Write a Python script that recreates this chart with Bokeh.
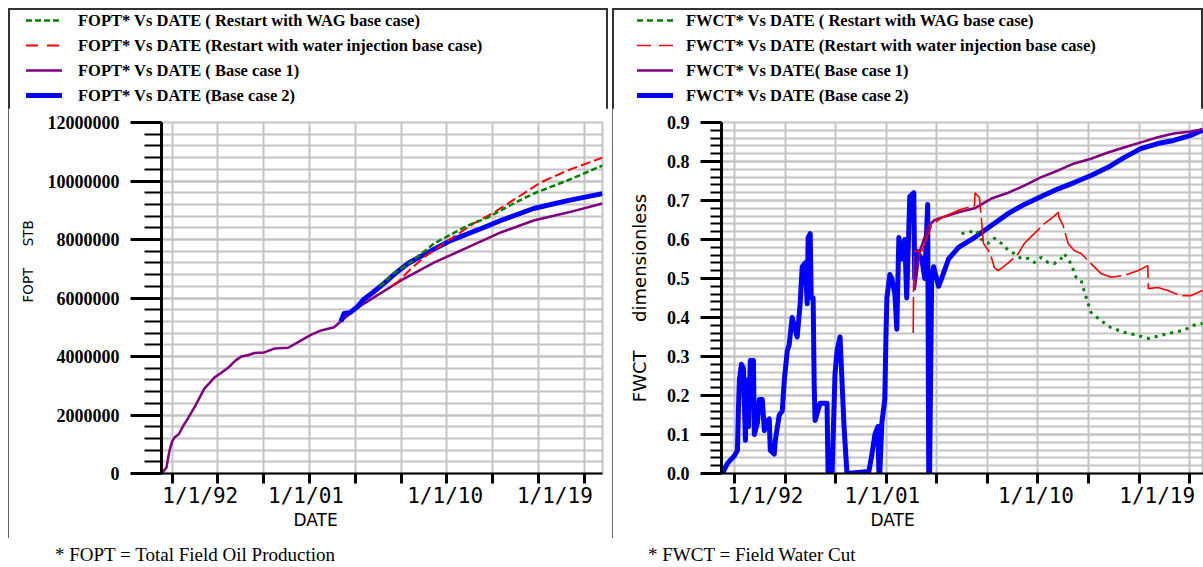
from bokeh.plotting import figure
from bokeh.models import (Range1d, FixedTicker, SingleIntervalTicker, LinearAxis,
                          NumeralTickFormatter, Div, Grid, Title, Spacer, CustomLabelingPolicy)
from bokeh.layouts import row, column
from bokeh.embed import file_html
from bokeh.resources import INLINE

# ---------------- data (x = decimal year) ----------------
GRID_YEARS = [1989.0, 1992.42, 1995.84, 1999.27, 2002.69, 2006.11, 2009.53, 2012.96, 2016.38, 2019.80]
DATE_LABEL_YEARS = [1991.1, 1999.0, 2009.4, 2017.6]
DATE_LABELS = ["1/1/92", "1/1/01", "1/1/10", "1/1/19"]

# FOPT (STB)
fopt_base1_x = [1988.20, 1988.57, 1988.80, 1989.00, 1989.17, 1989.50, 1989.84, 1990.20, 1990.66, 1991.00,
                1991.41, 1991.80, 1992.15, 1992.70, 1993.20, 1993.70, 1994.17, 1994.70, 1995.14, 1995.88,
                1996.63, 1997.67, 1998.64, 1999.40, 2000.13, 2001.10, 2001.85, 2002.89, 2004.08, 2006.10,
                2008.56, 2011.09, 2013.55, 2016.01, 2018.55, 2021.16]
fopt_base1_y = [0, 0.20e6, 0.79e6, 1.10e6, 1.23e6, 1.35e6, 1.64e6, 1.90e6, 2.26e6, 2.55e6,
                2.91e6, 3.10e6, 3.28e6, 3.45e6, 3.62e6, 3.85e6, 4.00e6, 4.05e6, 4.12e6, 4.14e6,
                4.27e6, 4.30e6, 4.55e6, 4.75e6, 4.89e6, 5.00e6, 5.30e6, 5.68e6, 6.02e6, 6.60e6,
                7.21e6, 7.73e6, 8.24e6, 8.65e6, 8.92e6, 9.23e6]
fopt_base2_x = [2001.60, 2001.85, 2002.30, 2002.89, 2003.30, 2004.00, 2004.83, 2005.70, 2006.62, 2008.11,
                2009.83, 2012.29, 2013.55, 2016.01, 2018.55, 2021.16]
fopt_base2_y = [5.20e6, 5.47e6, 5.50e6, 5.72e6, 5.95e6, 6.19e6, 6.50e6, 6.85e6, 7.18e6, 7.56e6,
                7.97e6, 8.41e6, 8.65e6, 9.06e6, 9.33e6, 9.57e6]
fopt_wag_x = [2004.50, 2005.50, 2006.99, 2008.56, 2011.09, 2012.58, 2014.52, 2016.01, 2018.55, 2021.16]
fopt_wag_y = [6.40e6, 6.82e6, 7.28e6, 7.86e6, 8.48e6, 8.75e6, 9.23e6, 9.57e6, 10.02e6, 10.53e6]
fopt_wi_x = [2005.50, 2005.87, 2006.84, 2008.00, 2009.30, 2011.54, 2013.03, 2014.82, 2016.54, 2018.55, 2021.16]
fopt_wi_y = [6.45e6, 6.55e6, 7.00e6, 7.45e6, 7.86e6, 8.55e6, 8.92e6, 9.44e6, 9.95e6, 10.36e6, 10.80e6]

# FWCT (fraction)
fwct_base2_x = [1988.19, 1988.52, 1989.00, 1989.20, 1989.27, 1989.33, 1989.47, 1989.60, 1989.74, 1989.80,
                1989.94, 1990.07, 1990.28, 1990.34, 1990.55, 1990.68, 1990.88, 1991.02, 1991.09, 1991.35,
                1991.42, 1991.69, 1991.76, 1992.03, 1992.23, 1992.37, 1992.57, 1992.70, 1992.90, 1993.24,
                1993.44, 1993.58, 1993.78, 1993.92, 1993.98, 1994.12, 1994.19, 1994.32, 1994.39, 1994.45,
                1994.79, 1995.06, 1995.26, 1995.33, 1995.60, 1995.80, 1995.94, 1996.14, 1996.27, 1996.41,
                1996.61, 1998.09, 1998.30, 1998.50, 1998.70, 1998.77, 1998.83, 1998.97, 1999.17, 1999.24,
                1999.31, 1999.51, 1999.64, 1999.85, 1999.98, 2000.12, 2000.32, 2000.52, 2000.65, 2000.86,
                2001.13, 2001.19, 2001.33, 2001.67, 2001.87, 2002.07, 2002.14, 2002.20, 2002.34, 2002.47,
                2002.81, 2003.01, 2003.48, 2004.16, 2005.24, 2006.38, 2007.53, 2008.61, 2009.75, 2010.90,
                2011.98, 2013.12, 2014.27, 2015.35, 2016.49, 2017.64, 2018.71, 2019.86, 2020.67]
fwct_base2_y = [0.0, 0.026, 0.046, 0.059, 0.17, 0.24, 0.28, 0.27, 0.085, 0.24,
                0.12, 0.29, 0.29, 0.10, 0.13, 0.19, 0.19, 0.11, 0.13, 0.14,
                0.059, 0.05, 0.085, 0.15, 0.16, 0.24, 0.315, 0.33, 0.40, 0.35,
                0.435, 0.53, 0.54, 0.435, 0.605, 0.615, 0.45, 0.45, 0.23, 0.136,
                0.18, 0.18, 0.18, 0.0, 0.0, 0.256, 0.315, 0.35, 0.24, 0.12,
                0.0, 0.005, 0.05, 0.10, 0.12, 0.0, 0.0, 0.13, 0.19, 0.34,
                0.45, 0.51, 0.50, 0.46, 0.37, 0.605, 0.55, 0.60, 0.45, 0.71,
                0.72, 0.50, 0.57, 0.55, 0.50, 0.69, 0.0, 0.0, 0.50, 0.53,
                0.48, 0.50, 0.55, 0.58, 0.605, 0.636, 0.667, 0.69, 0.71, 0.73,
                0.746, 0.764, 0.785, 0.81, 0.833, 0.846, 0.854, 0.867, 0.88]
fwct_base1_x = [2001.19, 2001.53, 2002.14, 2002.54, 2003.01, 2004.16, 2005.24, 2006.38, 2007.53, 2008.61,
                2009.75, 2010.90, 2011.98, 2013.12, 2014.27, 2015.35, 2016.49, 2017.64, 2018.71, 2019.86, 2020.67]
fwct_base1_y = [0.47, 0.57, 0.636, 0.65, 0.656, 0.67, 0.68, 0.705, 0.72, 0.738,
                0.76, 0.777, 0.795, 0.807, 0.823, 0.836, 0.849, 0.862, 0.872, 0.877, 0.883]
fwct_wi_x = [2001.09, 2001.13, 2001.67, 2002.34, 2003.01, 2004.16, 2005.24, 2005.27, 2005.57, 2005.71,
             2005.84, 2006.18, 2006.38, 2006.58, 2006.85, 2007.53, 2008.20, 2008.61, 2009.28, 2009.95,
             2010.63, 2010.90, 2010.96, 2011.23, 2011.57, 2011.98, 2012.45, 2013.12, 2013.79, 2014.47,
             2015.35, 2016.29, 2016.96, 2017.00, 2017.64, 2018.31, 2019.19, 2019.86, 2020.67]
fwct_wi_y = [0.36, 0.57, 0.57, 0.636, 0.656, 0.675, 0.687, 0.72, 0.708, 0.65,
             0.59, 0.572, 0.554, 0.528, 0.52, 0.54, 0.564, 0.59, 0.615, 0.64,
             0.66, 0.67, 0.656, 0.636, 0.59, 0.572, 0.564, 0.538, 0.513, 0.503,
             0.508, 0.52, 0.533, 0.474, 0.477, 0.469, 0.456, 0.456, 0.469]
fwct_wag_x = [2004.36, 2005.37, 2005.71, 2006.18, 2006.58, 2007.06, 2007.53, 2007.93, 2008.40, 2008.87,
              2009.28, 2009.75, 2010.22, 2010.63, 2011.10, 2011.30, 2011.77, 2012.11, 2012.45, 2012.65,
              2012.92, 2013.12, 2013.79, 2014.47, 2015.35, 2016.29, 2017.03, 2017.84, 2018.71, 2019.39,
              2020.06, 2020.67]
fwct_wag_y = [0.615, 0.623, 0.60, 0.59, 0.603, 0.59, 0.572, 0.564, 0.551, 0.551,
              0.541, 0.554, 0.541, 0.538, 0.551, 0.564, 0.538, 0.503, 0.495, 0.469,
              0.436, 0.413, 0.392, 0.374, 0.362, 0.354, 0.346, 0.354, 0.362, 0.367,
              0.38, 0.385]

LEGEND_FOPT = ["FOPT* Vs DATE ( Restart with WAG base case)",
               "FOPT* Vs DATE (Restart with water injection base case)",
               "FOPT* Vs DATE ( Base case  1)",
               "FOPT* Vs DATE (Base case  2)"]
LEGEND_FWCT = ["FWCT* Vs DATE ( Restart with WAG base case)",
               "FWCT* Vs DATE (Restart with water injection base case)",
               "FWCT* Vs DATE( Base case  1)",
               "FWCT* Vs DATE (Base case  2)"]
NB = "\u00a0"
YLABEL_FOPT = "FOPT" + NB * 5 + "STB"
YLABEL_FWCT = "FWCT" + NB * 5 + "dimensionless"
FOOT_FOPT = "* FOPT = Total Field Oil Production"
FOOT_FWCT = "* FWCT = Field Water Cut"

GREEN, RED, PURPLE, BLUE = "#008000", "#ff0000", "#800080", "#0000ff"
GRIDC = "#c4c4c4"
BORDER = {"outline": "2px solid #333333", "outline-offset": "-2px"}
DIV_PAD = 5   # Bokeh Div adds 5px around its content


def make_plot(width, min_left, min_right, x_start, x_end, y_end, y_interval, y_fmt,
              major_out, minor_out, ylabel, ylabel_size, ylabel_align, ylabel_offset, ylabel_standoff,
              date_offset):
    p = figure(width=width, height=430, output_backend="svg", toolbar_location=None,
               x_range=Range1d(x_start, x_end), y_range=Range1d(0, y_end),
               x_axis_type=None, y_axis_type=None,
               min_border_left=min_left, min_border_right=min_right,
               min_border_top=14, min_border_bottom=65)
    p.background_fill_color = "white"
    p.border_fill_color = "white"
    p.outline_line_color = GRIDC
    p.outline_line_width = 2

    gt = FixedTicker(ticks=GRID_YEARS, minor_ticks=[])
    yt = SingleIntervalTicker(interval=y_interval, num_minor_ticks=5)
    p.add_layout(Grid(dimension=0, ticker=gt, grid_line_color=GRIDC, grid_line_width=2))
    p.add_layout(Grid(dimension=1, ticker=yt, grid_line_color=GRIDC, grid_line_width=2,
                      minor_grid_line_color=GRIDC, minor_grid_line_width=2))

    # tick marks only (labels suppressed by the labeling policy)
    xa = LinearAxis(ticker=gt, major_tick_in=0, major_tick_out=10, major_tick_line_width=3,
                    minor_tick_out=0, minor_tick_in=0, axis_line_width=2, axis_line_color="black",
                    major_label_standoff=0, major_label_text_font_size="1px",
                    major_label_policy=CustomLabelingPolicy(code="return []"))
    p.add_layout(xa, "below")
    # date labels
    xl = LinearAxis(ticker=FixedTicker(ticks=DATE_LABEL_YEARS, minor_ticks=[]),
                    major_label_overrides={v: t for v, t in zip(DATE_LABEL_YEARS, DATE_LABELS)},
                    major_tick_out=0, major_tick_in=0, minor_tick_out=0, minor_tick_in=0,
                    axis_line_color=None, major_tick_line_color=None, minor_tick_line_color=None,
                    major_label_standoff=-4, major_label_text_font="DejaVu Sans Mono",
                    major_label_text_font_size="21px", major_label_text_color="black")
    p.add_layout(xl, "below")
    p.add_layout(Title(text="DATE", align="left", offset=date_offset, standoff=-6,
                       text_font="DejaVu Sans", text_font_size="17px", text_font_style="normal",
                       text_color="black"), "below")

    ya = LinearAxis(ticker=yt, formatter=NumeralTickFormatter(format=y_fmt),
                    major_tick_in=0, major_tick_out=major_out, minor_tick_in=0, minor_tick_out=minor_out,
                    major_tick_line_width=3, minor_tick_line_width=2, axis_line_width=3,
                    major_label_standoff=11, major_label_text_font="Liberation Serif",
                    major_label_text_font_style="bold", major_label_text_font_size="18px",
                    major_label_text_color="black")
    p.add_layout(ya, "left")
    p.add_layout(Title(text=ylabel, align=ylabel_align, offset=ylabel_offset, standoff=ylabel_standoff,
                       text_font="DejaVu Sans", text_font_size=ylabel_size, text_font_style="normal",
                       text_color="black"), "left")
    return p


def make_legend_div(width, keys, labels, gx, tx):
    lines = ""
    for i, (c, w, d) in enumerate(keys):
        y = 12.5 + 25 * i
        dash = "" if d is None else ' stroke-dasharray="%s"' % d
        lines += ('<line x1="%d" y1="%.1f" x2="%d" y2="%.1f" stroke="%s" stroke-width="%s"%s/>'
                  % (gx, y, gx + 36, y, c, w, dash))
    spans = "".join(
        '<span style="position:absolute;left:%dpx;top:%dpx;line-height:25px;white-space:nowrap;">%s</span>'
        % (tx, 25 * i, t) for i, t in enumerate(labels))
    html = ('<div style="position:relative;left:-%dpx;top:-%dpx;width:%dpx;height:100px;'
            "font-family:'Liberation Serif',serif;font-weight:bold;font-size:16.5px;color:#000;\">"
            '<svg style="position:absolute;left:0;top:0" width="%d" height="100">%s</svg>%s</div>'
            % (DIV_PAD, DIV_PAD, width, gx + 40, lines, spans))
    return Div(text=html, width=width - 2 * DIV_PAD, height=100 - 2 * DIV_PAD)


S_GREEN_L = dict(line_color=GREEN, line_width=2.5, line_dash="6 3")
S_RED_L = dict(line_color=RED, line_width=2, line_dash="10 4")
S_PURPLE = dict(line_color=PURPLE, line_width=2.5, line_join="round")
S_BLUE = dict(line_color=BLUE, line_width=5, line_join="round")
S_GREEN_R = dict(line_color=GREEN, line_width=3, line_dash="3 5")
S_RED_R = dict(line_color=RED, line_width=1.6, line_dash="36 5")

# ---------------- left panel: FOPT ----------------
p1 = make_plot(600, 152, 6, 1988.2, 2021.16, 12e6, 2e6, "0", 31, 17,
               YLABEL_FOPT, "13.5px", "left", 171, 18, 132)
p1.line(fopt_base1_x, fopt_base1_y, **S_PURPLE)
p1.line(fopt_base2_x, fopt_base2_y, **S_BLUE)
p1.line(fopt_wi_x, fopt_wi_y, **S_RED_L)
p1.line(fopt_wag_x, fopt_wag_y, **S_GREEN_L)
leg1 = make_legend_div(600, [(GREEN, 2.5, "6 3"), (RED, 2, "12 9"), (PURPLE, 2.5, None), (BLUE, 5, None)],
                       LEGEND_FOPT, 18, 70)
left_panel = column(leg1, p1, spacing=0, styles=BORDER)

# ---------------- right panel: FWCT ----------------
p2 = make_plot(591, 107, 0, 1988.12, 2020.73, 0.9, 0.1, "0.0", 21, 11,
               YLABEL_FWCT, "18px", "center", 0, 28, 149)
p2.line(fwct_base2_x, fwct_base2_y, **S_BLUE)
p2.line(fwct_base1_x, fwct_base1_y, **S_PURPLE)
p2.line(fwct_wag_x, fwct_wag_y, **S_GREEN_R)
p2.line(fwct_wi_x, fwct_wi_y, **S_RED_R)
leg2 = make_legend_div(591, [(GREEN, 2.5, "6 4"), (RED, 1.6, "14 8"), (PURPLE, 2.5, None), (BLUE, 5, None)],
                       LEGEND_FWCT, 25, 74)
right_panel = column(leg2, p2, spacing=0, styles=BORDER)

SPAN = ("position:absolute;top:8px;font-family:'Liberation Serif',serif;font-size:19px;"
        "line-height:18px;white-space:nowrap;color:#000;left:%dpx;")
foot = Div(text=('<div style="position:relative;left:-%dpx;top:-%dpx;width:1203px;height:29px;">'
                 '<span style="%s">%s</span><span style="%s">%s</span></div>')
                % (DIV_PAD, DIV_PAD, SPAN % 55, FOOT_FOPT, SPAN % 648, FOOT_FWCT),
           width=1203 - 2 * DIV_PAD, height=29 - 2 * DIV_PAD)

layout = column(Spacer(height=8),
                row(Spacer(width=8), left_panel, Spacer(width=4), right_panel, spacing=0),
                foot, spacing=0)
open("out.html", "w").write(file_html(layout, INLINE))
